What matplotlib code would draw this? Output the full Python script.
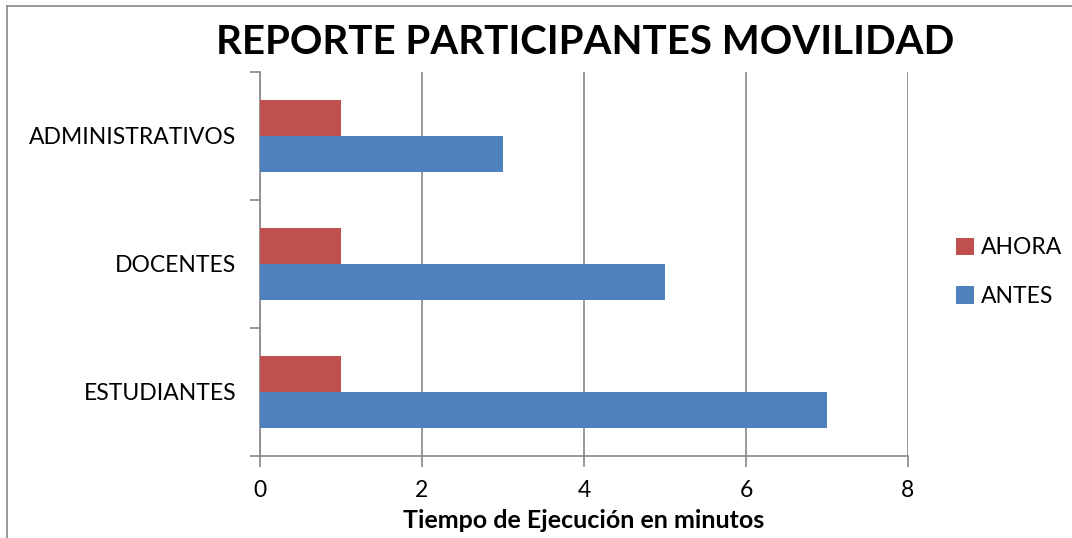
import matplotlib
matplotlib.use("Agg")
import matplotlib.pyplot as plt
import numpy as np

categories = ["ESTUDIANTES", "DOCENTES", "ADMINISTRATIVOS"]
antes = [7, 5, 3]
ahora = [1, 1, 1]
xticks = [0, 2, 4, 6, 8]

plt.rcParams["font.family"] = ["Lato", "DejaVu Sans"]

W, H = 1072, 538
fig = plt.figure(figsize=(W / 100, H / 100), dpi=100)

# plot area in pixel coordinates
left, right, top, bottom = 260, 908, 72, 456
ax = fig.add_axes([left / W, 1 - bottom / H, (right - left) / W, (bottom - top) / H])

grey = "#878787"
blue = "#4F81BD"
red = "#C0504D"

y = np.arange(len(categories))
h = 0.285
ax.barh(y - h / 2, antes, height=h, color=blue, label="ANTES", zorder=3)
ax.barh(y + h / 2, ahora, height=h, color=red, label="AHORA", zorder=3)

ax.set_xlim(0, 8)
ax.set_ylim(-0.5, len(categories) - 0.5)
ax.set_xticks(xticks)
ax.set_xticklabels([str(t) for t in xticks], fontsize=16.5)
ax.set_yticks(y)
ax.set_yticklabels(categories, fontsize=16.5)

# category separators on the value axis
ax.set_yticks(np.arange(len(categories) + 1) - 0.5, minor=True)
ax.tick_params(axis="y", which="major", length=0, pad=17)
ax.tick_params(axis="y", which="minor", length=7, color=grey, width=1.2)
ax.tick_params(axis="x", length=8, color=grey, width=1.2, pad=9, direction="out")

for s in ["top", "right"]:
    ax.spines[s].set_visible(False)
for s in ["left", "bottom"]:
    ax.spines[s].set_color(grey)
    ax.spines[s].set_linewidth(1.2)

ax.grid(axis="x", color=grey, linewidth=1.2, zorder=0)
ax.set_axisbelow(True)

ax.set_xlabel("Tiempo de Ejecución en minutos", fontsize=18, fontweight="bold", labelpad=6)

fig.text(585 / W, 1 - 43 / H, "REPORTE PARTICIPANTES MOVILIDAD", fontsize=29,
         fontweight="bold", ha="center", va="center")

handles, labels = ax.get_legend_handles_labels()
leg = fig.legend(handles[::-1], labels[::-1], loc="center left",
                 bbox_to_anchor=(935 / W, 1 - 272 / H), frameon=False, fontsize=16.5,
                 handlelength=0.8, handleheight=0.8, handletextpad=0.3, labelspacing=1.2)

# chart border
fig.add_artist(plt.Line2D([7 / W, 7 / W], [0, 1 - 6 / H], color=grey, linewidth=1.2,
                          transform=fig.transFigure))
fig.add_artist(plt.Line2D([7 / W, 1], [1 - 6 / H, 1 - 6 / H], color=grey, linewidth=1.2,
                          transform=fig.transFigure))

fig.savefig("out.png", dpi=100)
